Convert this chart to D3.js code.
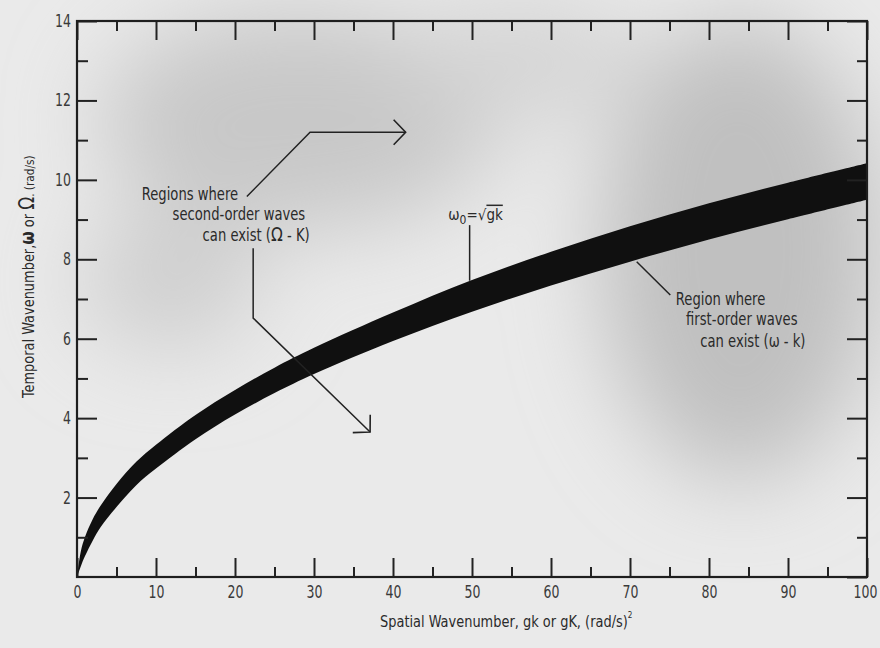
<!DOCTYPE html>
<html>
<head>
<meta charset="utf-8">
<script src="https://cdn.jsdelivr.net/npm/d3@7"></script>
<style>
  body { margin: 0; background: #e9e9e9; }
  svg text { font-family: "Liberation Sans Narrow", "DejaVu Sans Condensed", sans-serif; fill: #2a2a2a; }
  .tick line { stroke: #222; stroke-width: 2; }
  .tick text { font-size: 17px; fill: #3a3a3a; }
</style>
</head>
<body>
<div id="chart"></div>
<script>
// Data
const gk    = [0, 0.5, 1, 2, 3, 5, 7.5, 10, 15, 20, 25, 30, 40, 50, 60, 70, 80, 90, 100]
const upper = [0, 0.66, 1.0, 1.46, 1.8, 2.34, 2.9, 3.33, 4.08, 4.71, 5.27, 5.77, 6.66, 7.48, 8.19, 8.83, 9.41, 9.93, 10.42]
const lower = [0, 0.28, 0.52, 0.92, 1.26, 1.76, 2.31, 2.73, 3.47, 4.09, 4.63, 5.11, 5.94, 6.68, 7.34, 7.94, 8.5, 9.01, 9.5]

const xMajor = [0, 10, 20, 30, 40, 50, 60, 70, 80, 90, 100]
const xMinor = [5, 15, 25, 35, 45, 55, 65, 75, 85, 95]
const yMajor = [0, 2, 4, 6, 8, 10, 12, 14]
const yMinor = [1, 3, 5, 7, 9, 11, 13]

// annotation anchors, in data units
const arrowUp   = [[21.5, 9.58], [29.5, 11.2], [41.6, 11.2]]
const arrowDown = [[22.3, 8.28], [22.3, 6.52], [37.1, 3.65]]
const omegaLeader = [[49.7, 8.86], [49.7, 7.46]]
const firstLeader = [[70.85, 7.94], [75.1, 7.1]]

async function draw(){
    let dims = {
        width: 880,
        height: 648,
        margin: { top: 21, left: 77, right: 13, bottom: 71 }
    }
    dims.ctrWidth = dims.width - dims.margin.left - dims.margin.right
    dims.ctrHeight = dims.height - dims.margin.top - dims.margin.bottom

    const xScale = d3.scaleLinear().domain([0, 100]).range([0, dims.ctrWidth])
    const yScale = d3.scaleLinear().domain([0, 14]).range([dims.ctrHeight, 0])

    const svg = d3.select('#chart')
        .append('svg')
        .attr('width', dims.width)
        .attr('height', dims.height)

    // scanned-paper shading
    const defs = svg.append('defs')
    defs.append('filter').attr('id', 'blur')
        .attr('x', '-50%').attr('y', '-50%').attr('width', '200%').attr('height', '200%')
        .append('feGaussianBlur').attr('stdDeviation', 45)
    defs.append('marker').attr('id', 'chev')
        .attr('viewBox', '-14 -14 28 28')
        .attr('markerWidth', 28).attr('markerHeight', 28)
        .attr('markerUnits', 'userSpaceOnUse')
        .attr('orient', 'auto')
        .append('path')
        .attr('d', 'M-12,-12.5L0,0L-12,12.5')
        .attr('fill', 'none').attr('stroke', '#222').attr('stroke-width', 1.6)

    svg.append('rect').attr('width', dims.width).attr('height', dims.height).attr('fill', '#eaeaea')
    const shade = svg.append('g').attr('filter', 'url(#blur)')
    shade.append('ellipse').attr('cx', 300).attr('cy', 120).attr('rx', 200).attr('ry', 110).attr('fill', '#c8c8c8')
    shade.append('ellipse').attr('cx', 740).attr('cy', 250).attr('rx', 140).attr('ry', 230).attr('fill', '#c0c0c0')
    shade.append('ellipse').attr('cx', 170).attr('cy', 280).attr('rx', 90).attr('ry', 70).attr('fill', '#cfcfcf')
    shade.append('ellipse').attr('cx', 520).attr('cy', 60).attr('rx', 120).attr('ry', 60).attr('fill', '#d4d4d4')

    const ctr = svg.append('g')
        .attr('transform', `translate(${dims.margin.left}, ${dims.margin.top})`)

    // Band
    const area = d3.area()
        .x((d, i) => xScale(gk[i]))
        .y0((d, i) => yScale(lower[i]))
        .y1((d, i) => yScale(upper[i]))
        .curve(d3.curveCatmullRom.alpha(0.5))
    ctr.append('path')
        .datum(gk)
        .attr('d', area)
        .attr('fill', '#101010')

    // Axes (inward ticks on all four sides)
    const squeeze = 0.82
    const addAxis = (axis, transform, labels) => {
        const g = ctr.append('g').attr('transform', transform).call(axis)
        g.select('.domain').remove()
        if (!labels) g.selectAll('text').remove()
        else g.selectAll('text').each(function(){
            const t = d3.select(this)
            const x = +t.attr('x') || 0
            t.attr('x', x / squeeze).attr('transform', `scale(${squeeze},1)`)
        })
        return g
    }
    const h = dims.ctrHeight, w = dims.ctrWidth
    const xa = addAxis(d3.axisBottom(xScale).tickValues(xMajor).tickSize(-19).tickPadding(9), `translate(0,${h})`, true)
    xa.selectAll('text').filter(d => d === 100).attr('x', -2 / squeeze)
    addAxis(d3.axisBottom(xScale).tickValues(xMinor).tickSize(-10), `translate(0,${h})`, false)
    addAxis(d3.axisTop(xScale).tickValues(xMajor).tickSize(-19), 'translate(0,0)', false)
    addAxis(d3.axisTop(xScale).tickValues(xMinor).tickSize(-10), 'translate(0,0)', false)
    addAxis(d3.axisLeft(yScale).tickValues(yMajor.filter(d => d > 0)).tickSize(-20).tickPadding(6), 'translate(0,0)', true)
    addAxis(d3.axisLeft(yScale).tickValues(yMinor).tickSize(-11), 'translate(0,0)', false)
    addAxis(d3.axisRight(yScale).tickValues(yMajor).tickSize(-20), `translate(${w},0)`, false)
    addAxis(d3.axisRight(yScale).tickValues(yMinor).tickSize(-10), `translate(${w},0)`, false)

    ctr.append('rect')
        .attr('width', w).attr('height', h)
        .attr('fill', 'none').attr('stroke', '#1e1e1e').attr('stroke-width', 2.2)

    // Leaders and arrows
    const line = d3.line().x(d => xScale(d[0])).y(d => yScale(d[1]))
    const lead = (pts, arrow) => {
        const p = ctr.append('path').attr('d', line(pts))
            .attr('fill', 'none').attr('stroke', '#222').attr('stroke-width', 1.5)
        if (arrow) p.attr('marker-end', 'url(#chev)')
    }
    lead(arrowUp, true)
    lead(arrowDown, true)
    lead(omegaLeader, false)
    lead(firstLeader, false)

    // Annotation text (condensed like the original typeface)
    const note = (x, y, txt) => ctr.append('text')
        .attr('transform', `translate(${xScale(x)},${yScale(y)}) scale(0.86,1)`)
        .attr('font-size', 17).text(txt)
    note(8.2, 9.5, 'Regions where')
    note(12.1, 8.99, 'second-order waves')
    const t2 = note(15.9, 8.46, 'can exist (')
    t2.append('tspan').attr('font-size', 20).text('Ω')
    t2.append('tspan').text(' - K)')

    note(75.8, 6.85, 'Region where')
    note(77.1, 6.35, 'first-order waves')
    const t1 = note(78.9, 5.8, 'can exist (')
    t1.append('tspan').text('ω  -  k)')

    // ω0 = √gk
    const om = ctr.append('text')
        .attr('x', xScale(47.0)).attr('y', yScale(9.0))
        .attr('font-size', 15)
    om.append('tspan').text('ω')
    om.append('tspan').attr('font-size', 12).attr('dy', 4).text('0')
    om.append('tspan').attr('dy', -4).text('=√')
    om.append('tspan').attr('text-decoration', 'overline').text('gk')

    // Axis titles
    const xt = svg.append('text')
        .attr('transform', 'translate(380,627) scale(0.9,1)')
        .attr('font-size', 16)
        .text('Spatial Wavenumber, gk or gK, (rad/s)')
    xt.append('tspan').attr('font-size', 9).attr('dy', -9).text('2')

    const yt = svg.append('text')
        .attr('transform', 'translate(34, 398) rotate(-90) scale(0.9,1)')
        .attr('font-size', 16)
        .text('Temporal Wavenumber,')
    yt.append('tspan').attr('font-size', 19).attr('font-weight', 'bold').text('ω')
    yt.append('tspan').text(' or ')
    yt.append('tspan').attr('font-size', 21).text('Ω')
    yt.append('tspan').attr('font-size', 13).text('. (rad/s)')
}
draw()
</script>
</body>
</html>
